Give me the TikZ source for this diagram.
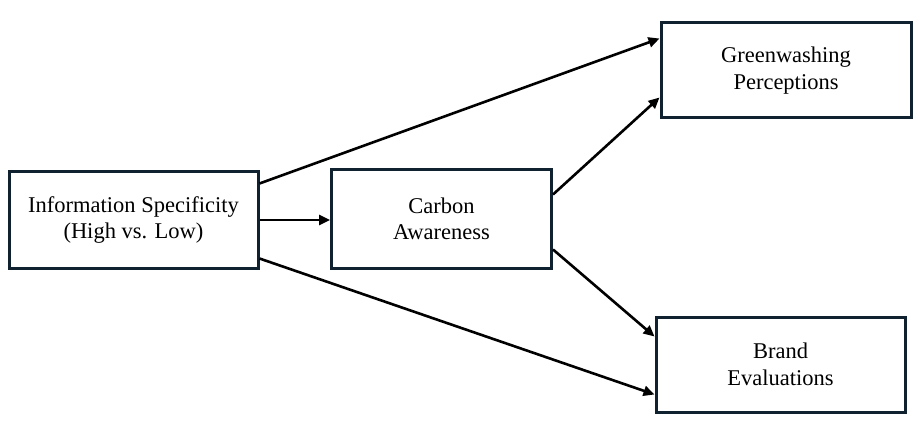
\documentclass[tikz,border=0pt]{standalone}
\usepackage{fontspec}
\setmainfont{Liberation Serif}
\usetikzlibrary{arrows.meta,calc}
\definecolor{boxline}{HTML}{10222F}
\begin{document}
\begin{tikzpicture}[x=1pt,y=-1pt,
  box/.style={draw=boxline,line width=3pt,fill=white,rectangle,inner sep=0pt,align=center,
    font=\fontsize{22.5}{26.5}\selectfont},
  conn/.style={line width=2.6pt,black,-{Triangle[length=11pt,width=10pt]}}]
\useasboundingbox (0,0) rectangle (920,422);
\node[box,minimum width=249pt,minimum height=96pt] (info) at (133.5,220) {Information Specificity\\(High vs. Low)};
\node[box,minimum width=220pt,minimum height=98pt] (carbon) at (441.5,219) {Carbon\\Awareness};
\node[box,minimum width=250pt,minimum height=95pt] (green) at (786,70.5) {Greenwashing\\Perceptions};
\node[box,minimum width=249pt,minimum height=95pt] (brand) at (780.5,364.5) {Brand\\Evaluations};
\draw[conn] (info.east) -- (info.east -| carbon.west);
\draw[conn] ($(info.north east)+(0,13)$) -- ($(green.north west)+(0,17)$);
\draw[conn] ($(carbon.north east)+(0,26)$) -- ($(green.south west)+(0,-22)$);
\draw[conn] ($(carbon.south east)+(0,-20)$) -- ($(brand.north west)+(0,21)$);
\draw[conn] ($(info.south east)+(0,-11)$) -- ($(brand.south west)+(0,-19)$);
\end{tikzpicture}
\end{document}
